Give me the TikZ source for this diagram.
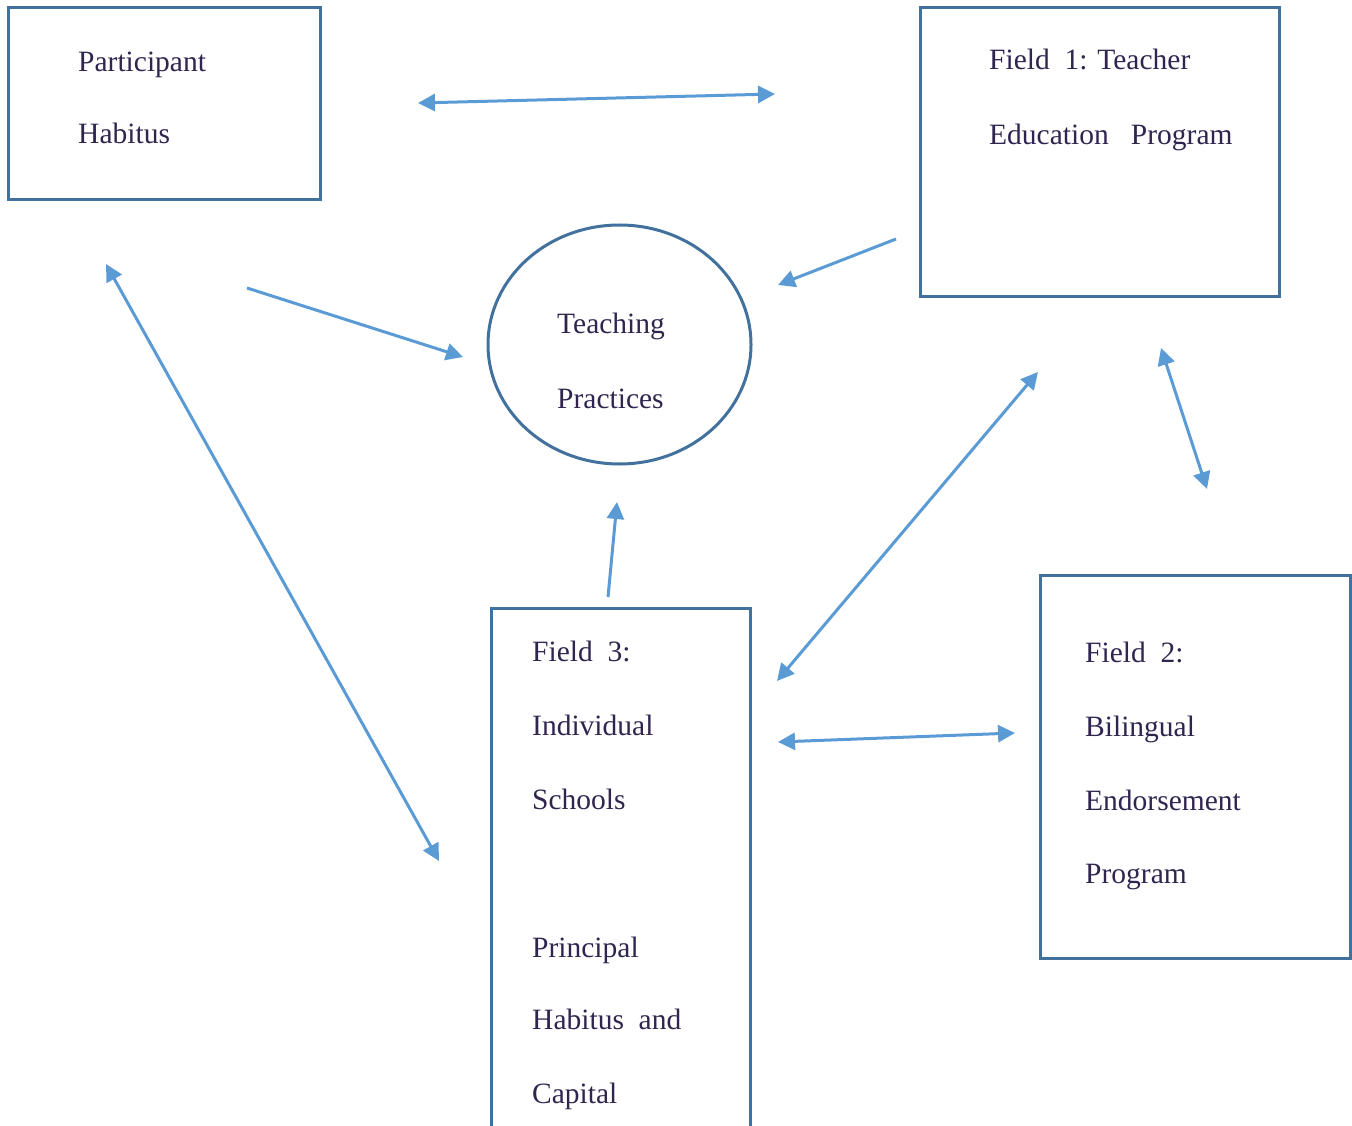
\documentclass[tikz,border=0pt]{standalone}
\usepackage{fontspec}
\setmainfont{Liberation Serif}
\usetikzlibrary{arrows.meta}
\usetikzlibrary{shapes.geometric}
\definecolor{boxblue}{HTML}{41719C}
\definecolor{arrowblue}{HTML}{5B9BD5}
\definecolor{inkpurple}{HTML}{30254F}

\begin{document}
\begin{tikzpicture}[x=1pt, y=-1pt,
    box/.style={draw=boxblue, line width=3pt, rectangle, inner sep=0pt},
    txt/.style={anchor=base west, inner sep=0pt, text=inkpurple, font=\fontsize{29.5}{34}\selectfont},
    link/.style={draw=arrowblue, line width=3pt, -{Triangle[length=17pt, width=17pt]}},
    twoway/.style={draw=arrowblue, line width=3pt, {Triangle[length=17pt, width=17pt]}-{Triangle[length=17pt, width=17pt]}}]
    \clip (0,0) rectangle (1352,1126);
    % participant habitus
    \node [box, minimum width=312pt, minimum height=192pt] (habitus) at (164,104) {};
    \node [txt] (habitusA) at (78,72) {Participant};
    \node [txt] (habitusB) at (78,144) {Habitus};
    % field 1
    \node [box, minimum width=359pt, minimum height=288pt] (field1) at (1099.5,152) {};
    \node [txt] (field1A) at (989,70) {Field\enspace 1: Teacher};
    \node [txt] (field1B) at (989,145) {Education\enspace\ Program};
    % teaching practices
    \node [draw=boxblue, line width=3pt, ellipse, minimum width=263pt, minimum height=239pt] (practices) at (619.5,344.5) {};
    \node [txt] (practicesA) at (557,333) {Teaching};
    \node [txt] (practicesB) at (557,408) {Practices};
    % field 3
    \node [box, minimum width=259pt, minimum height=542pt] (field3) at (620.5,879) {};
    \node [txt] (field3A) at (532,661) {Field\enspace 3:};
    \node [txt] (field3B) at (532,735) {Individual};
    \node [txt] (field3C) at (532,809) {Schools};
    \node [txt] (field3D) at (532,957) {Principal};
    \node [txt] (field3E) at (532,1029) {Habitus\enspace and};
    \node [txt] (field3F) at (532,1103) {Capital};
    % field 2
    \node [box, minimum width=310pt, minimum height=383pt] (field2) at (1195,766.5) {};
    \node [txt] (field2A) at (1085,662) {Field\enspace 2:};
    \node [txt] (field2B) at (1085,736) {Bilingual};
    \node [txt] (field2C) at (1085,810) {Endorsement};
    \node [txt] (field2D) at (1085,883) {Program};

    % arrow ends
    \coordinate (habR) at (418,103);
    \coordinate (f1L) at (775,94);
    \coordinate (habS) at (247,288);
    \coordinate (tpL) at (463,357);
    \coordinate (f1S) at (896,239);
    \coordinate (tpR) at (778,285);
    \coordinate (habD) at (106,264);
    \coordinate (f3L) at (439,861);
    \coordinate (f3T) at (608,597);
    \coordinate (tpB) at (617,502);
    \coordinate (f1D) at (1038,372);
    \coordinate (f3R) at (777,681);
    \coordinate (f1B) at (1161,348);
    \coordinate (f2T) at (1207,489);
    \coordinate (f3M) at (778,742);
    \coordinate (f2L) at (1015,733);

    % connectors
    \draw [twoway] (habR) -- (f1L);
    \draw [link] (habS) -- (tpL);
    \draw [link] (f1S) -- (tpR);
    \draw [twoway] (habD) -- (f3L);
    \draw [link] (f3T) -- (tpB);
    \draw [twoway] (f1D) -- (f3R);
    \draw [twoway] (f1B) -- (f2T);
    \draw [twoway] (f3M) -- (f2L);
\end{tikzpicture}
\end{document}
